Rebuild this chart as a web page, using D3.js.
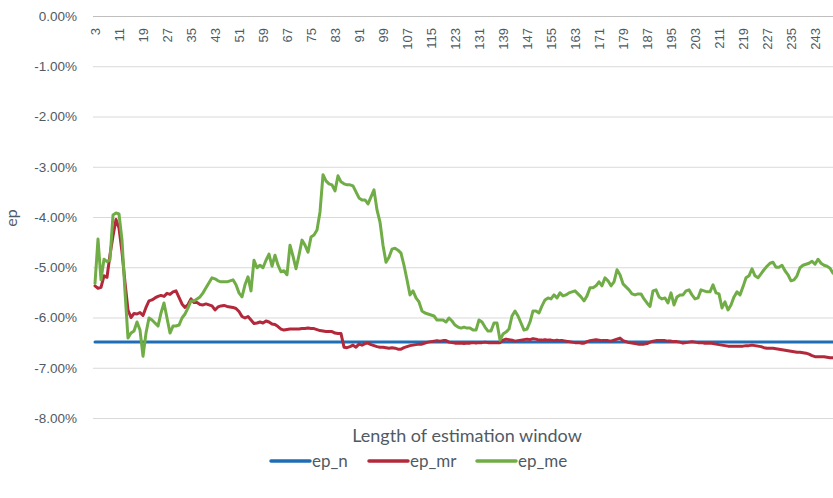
<!DOCTYPE html>
<html>
<head>
<meta charset="utf-8">
<script src="https://cdn.jsdelivr.net/npm/d3@7"></script>
<style>
    body { margin: 0; background: #fff; }
    svg { display: block; font-family: Lato, "Noto Sans", sans-serif; }
</style>
</head>
<body>
<div id="chart"></div>
<script>
// DATA
// window lengths 3..249
var categories = d3.range(3, 250);
// every 8th window length is labelled
var tickLabels = [3, 11, 19, 27, 35, 43, 51, 59, 67, 75, 83, 91, 99, 107, 115, 123,
    131, 139, 147, 155, 163, 171, 179, 187, 195, 203, 211, 219, 227, 235, 243];
var yTicks = [0, -1, -2, -3, -4, -5, -6, -7, -8];

// ep_n (%), flat
var epN = [
    -6.49, -6.49, -6.49, -6.49, -6.49, -6.49, -6.49, -6.49, -6.49, -6.49,
    -6.49, -6.49, -6.49, -6.49, -6.49, -6.49, -6.49, -6.49, -6.49, -6.49,
    -6.49, -6.49, -6.49, -6.49, -6.49, -6.49, -6.49, -6.49, -6.49, -6.49,
    -6.49, -6.49, -6.49, -6.49, -6.49, -6.49, -6.49, -6.49, -6.49, -6.49,
    -6.49, -6.49, -6.49, -6.49, -6.49, -6.49, -6.49, -6.49, -6.49, -6.49,
    -6.49, -6.49, -6.49, -6.49, -6.49, -6.49, -6.49, -6.49, -6.49, -6.49,
    -6.49, -6.49, -6.49, -6.49, -6.49, -6.49, -6.49, -6.49, -6.49, -6.49,
    -6.49, -6.49, -6.49, -6.49, -6.49, -6.49, -6.49, -6.49, -6.49, -6.49,
    -6.49, -6.49, -6.49, -6.49, -6.49, -6.49, -6.49, -6.49, -6.49, -6.49,
    -6.49, -6.49, -6.49, -6.49, -6.49, -6.49, -6.49, -6.49, -6.49, -6.49,
    -6.49, -6.49, -6.49, -6.49, -6.49, -6.49, -6.49, -6.49, -6.49, -6.49,
    -6.49, -6.49, -6.49, -6.49, -6.49, -6.49, -6.49, -6.49, -6.49, -6.49,
    -6.49, -6.49, -6.49, -6.49, -6.49, -6.49, -6.49, -6.49, -6.49, -6.49,
    -6.49, -6.49, -6.49, -6.49, -6.49, -6.49, -6.49, -6.49, -6.49, -6.49,
    -6.49, -6.49, -6.49, -6.49, -6.49, -6.49, -6.49, -6.49, -6.49, -6.49,
    -6.49, -6.49, -6.49, -6.49, -6.49, -6.49, -6.49, -6.49, -6.49, -6.49,
    -6.49, -6.49, -6.49, -6.49, -6.49, -6.49, -6.49, -6.49, -6.49, -6.49,
    -6.49, -6.49, -6.49, -6.49, -6.49, -6.49, -6.49, -6.49, -6.49, -6.49,
    -6.49, -6.49, -6.49, -6.49, -6.49, -6.49, -6.49, -6.49, -6.49, -6.49,
    -6.49, -6.49, -6.49, -6.49, -6.49, -6.49, -6.49, -6.49, -6.49, -6.49,
    -6.49, -6.49, -6.49, -6.49, -6.49, -6.49, -6.49, -6.49, -6.49, -6.49,
    -6.49, -6.49, -6.49, -6.49, -6.49, -6.49, -6.49, -6.49, -6.49, -6.49,
    -6.49, -6.49, -6.49, -6.49, -6.49, -6.49, -6.49, -6.49, -6.49, -6.49,
    -6.49, -6.49, -6.49, -6.49, -6.49, -6.49, -6.49, -6.49, -6.49, -6.49,
    -6.49, -6.49, -6.49, -6.49, -6.49, -6.49, -6.49
];

// ep_mr (%)
var epMr = [
    -5.37, -5.42, -5.40, -5.17, -5.20, -4.75, -4.38, -4.05, -4.22, -4.70,
    -5.30, -5.85, -6.00, -5.92, -5.93, -5.90, -5.96, -5.80, -5.67, -5.65,
    -5.61, -5.58, -5.56, -5.58, -5.52, -5.54, -5.49, -5.47, -5.60, -5.73,
    -5.80, -5.74, -5.63, -5.70, -5.70, -5.74, -5.75, -5.73, -5.75, -5.77,
    -5.85, -5.79, -5.77, -5.76, -5.78, -5.79, -5.80, -5.82, -5.88, -5.98,
    -6.01, -5.98, -6.05, -6.12, -6.11, -6.09, -6.11, -6.07, -6.09, -6.13,
    -6.14, -6.18, -6.23, -6.25, -6.24, -6.23, -6.23, -6.23, -6.23, -6.22,
    -6.22, -6.21, -6.22, -6.22, -6.24, -6.26, -6.27, -6.28, -6.28, -6.28,
    -6.31, -6.32, -6.32, -6.59, -6.60, -6.58, -6.55, -6.59, -6.53, -6.55,
    -6.52, -6.51, -6.54, -6.56, -6.58, -6.59, -6.59, -6.60, -6.61, -6.60,
    -6.61, -6.63, -6.63, -6.60, -6.58, -6.56, -6.55, -6.54, -6.53, -6.53,
    -6.51, -6.49, -6.48, -6.47, -6.46, -6.47, -6.46, -6.46, -6.49, -6.50,
    -6.51, -6.51, -6.51, -6.52, -6.51, -6.51, -6.50, -6.51, -6.50, -6.50,
    -6.49, -6.50, -6.50, -6.50, -6.50, -6.50, -6.45, -6.43, -6.44, -6.45,
    -6.47, -6.46, -6.45, -6.44, -6.43, -6.44, -6.42, -6.43, -6.45, -6.45,
    -6.44, -6.45, -6.45, -6.46, -6.45, -6.46, -6.46, -6.47, -6.48, -6.49,
    -6.50, -6.50, -6.51, -6.51, -6.48, -6.46, -6.45, -6.44, -6.45, -6.46,
    -6.46, -6.46, -6.47, -6.45, -6.43, -6.41, -6.46, -6.48, -6.50, -6.51,
    -6.52, -6.53, -6.53, -6.53, -6.52, -6.49, -6.47, -6.46, -6.46, -6.46,
    -6.46, -6.47, -6.47, -6.48, -6.48, -6.49, -6.51, -6.50, -6.49, -6.48,
    -6.49, -6.50, -6.50, -6.51, -6.51, -6.51, -6.52, -6.53, -6.54, -6.55,
    -6.56, -6.57, -6.57, -6.57, -6.57, -6.57, -6.57, -6.56, -6.56, -6.55,
    -6.56, -6.57, -6.58, -6.60, -6.61, -6.61, -6.61, -6.62, -6.63, -6.64,
    -6.65, -6.66, -6.67, -6.68, -6.69, -6.69, -6.70, -6.71, -6.73, -6.76,
    -6.78, -6.78, -6.78, -6.78, -6.79, -6.80, -6.80
];

// ep_me (%)
var epMe = [
    -5.32, -4.44, -5.25, -4.84, -4.89, -4.85, -3.96, -3.92, -3.94, -4.46,
    -5.49, -6.41, -6.31, -6.27, -6.09, -6.25, -6.77, -6.31, -6.01, -6.05,
    -6.11, -6.17, -5.91, -5.71, -6.01, -6.31, -6.17, -6.17, -6.15, -6.01,
    -5.93, -5.81, -5.67, -5.67, -5.63, -5.59, -5.51, -5.41, -5.31, -5.21,
    -5.23, -5.27, -5.29, -5.29, -5.29, -5.27, -5.25, -5.35, -5.51, -5.59,
    -5.35, -5.19, -5.47, -4.86, -5.01, -4.96, -5.01, -4.86, -4.74, -4.98,
    -4.76, -4.96, -5.09, -5.07, -5.15, -4.56, -4.78, -5.03, -4.76, -4.46,
    -4.56, -4.70, -4.40, -4.36, -4.26, -3.90, -3.16, -3.28, -3.34, -3.36,
    -3.48, -3.18, -3.30, -3.34, -3.36, -3.36, -3.38, -3.50, -3.62, -3.66,
    -3.66, -3.74, -3.60, -3.46, -3.86, -4.10, -4.56, -4.90, -4.80, -4.64,
    -4.62, -4.66, -4.72, -4.96, -5.25, -5.55, -5.47, -5.61, -5.69, -5.87,
    -5.91, -5.93, -5.95, -5.97, -6.05, -6.05, -6.05, -6.09, -6.01, -6.07,
    -6.15, -6.19, -6.21, -6.19, -6.21, -6.21, -6.25, -6.25, -6.05, -6.09,
    -6.19, -6.27, -6.27, -6.11, -6.11, -6.45, -6.33, -6.29, -6.23, -5.97,
    -5.87, -5.97, -6.11, -6.25, -6.23, -6.09, -5.87, -5.87, -5.91, -5.77,
    -5.65, -5.61, -5.63, -5.55, -5.61, -5.51, -5.57, -5.55, -5.51, -5.49,
    -5.47, -5.53, -5.59, -5.67, -5.57, -5.41, -5.41, -5.37, -5.29, -5.37,
    -5.21, -5.27, -5.37, -5.29, -5.05, -5.15, -5.33, -5.39, -5.45, -5.53,
    -5.55, -5.53, -5.53, -5.63, -5.71, -5.78, -5.47, -5.45, -5.59, -5.63,
    -5.61, -5.71, -5.51, -5.75, -5.59, -5.55, -5.55, -5.47, -5.45, -5.55,
    -5.63, -5.61, -5.45, -5.47, -5.49, -5.49, -5.35, -5.51, -5.53, -5.81,
    -5.69, -5.85, -5.75, -5.59, -5.49, -5.55, -5.39, -5.21, -5.17, -5.03,
    -5.17, -5.21, -5.13, -5.05, -4.98, -4.92, -4.90, -5.00, -5.00, -4.96,
    -5.07, -5.15, -5.27, -5.25, -5.17, -5.01, -4.96, -4.94, -4.92, -4.88,
    -4.94, -4.84, -4.92, -4.96, -4.98, -5.02, -5.12
];

var seriesNames = ["ep_n", "ep_mr", "ep_me"];
var seriesColors = ["#1f6db5", "#b3283a", "#70ad47"];
var seriesValues = [epN, epMr, epMe];

// SIZES
var svgWidth = 833;
var svgHeight = 498;
var plotLeft = 93;
var plotRight = 833;
var plotTop = 16;
var plotBottom = 418;
var textColor = "#505a64";

var svg = d3.select("#chart")
    .append("svg")
    .attr("width", svgWidth)
    .attr("height", svgHeight);

// scales
var x = d3.scaleBand()
    .domain(categories)
    .range([plotLeft + 0.5, plotLeft + 0.5 + categories.length * 3]);

var y = d3.scaleLinear()
    .domain([-8, 0])
    .range([plotBottom, plotTop]);

// y axis with gridlines
var yAxis = svg.append("g")
    .attr("transform", `translate(${plotLeft}, 0)`)
    .call(d3.axisLeft(y)
        .tickValues(yTicks)
        .tickSize(-(plotRight - plotLeft))
        .tickPadding(16)
        .tickFormat(d => d.toFixed(2) + "%"));
yAxis.select(".domain").remove();
yAxis.selectAll("line")
    .attr("stroke", d => d === 0 ? "#bfbfbf" : "#d9d9d9");
yAxis.selectAll("text")
    .attr("fill", textColor)
    .attr("font-size", 13.5);

// y title
svg.append("text")
    .attr("transform", "translate(17, 218) rotate(-90)")
    .attr("text-anchor", "middle")
    .attr("fill", textColor)
    .attr("font-size", 16)
    .text("ep");

// category axis sits at 0, labels hang below it
var xAxis = svg.append("g")
    .attr("transform", `translate(0, ${plotTop})`)
    .call(d3.axisBottom(x)
        .tickValues(tickLabels)
        .tickSize(0));
xAxis.select(".domain").remove();
xAxis.selectAll("text")
    .attr("transform", "rotate(-90)")
    .attr("x", -12)
    .attr("y", 0)
    .attr("dy", "0.35em")
    .attr("text-anchor", "end")
    .attr("fill", textColor)
    .attr("font-size", 13);

// x title
svg.append("text")
    .attr("x", 467)
    .attr("y", 442)
    .attr("text-anchor", "middle")
    .attr("fill", textColor)
    .attr("font-size", 18)
    .text("Length of estimation window");

// lines
var line = d3.line()
    .x((d, i) => x(categories[i]) + x.bandwidth() / 2)
    .y(d => y(d));

svg.append("g")
    .selectAll("path")
    .data(seriesValues)
    .enter()
    .append("path")
    .attr("d", line)
    .attr("fill", "none")
    .attr("stroke", (d, i) => seriesColors[i])
    .attr("stroke-width", 3)
    .attr("stroke-linejoin", "round")
    .attr("stroke-linecap", "round");

// legend
var legendX = [271, 369, 477];
var legend = svg.append("g")
    .selectAll("g")
    .data(seriesNames)
    .enter()
    .append("g")
    .attr("transform", (d, i) => `translate(${legendX[i]}, 461)`);

legend.append("line")
    .attr("x1", 0)
    .attr("x2", 39)
    .attr("stroke", (d, i) => seriesColors[i])
    .attr("stroke-width", 3.5)
    .attr("stroke-linecap", "round");

legend.append("text")
    .attr("x", 41)
    .attr("dy", "0.35em")
    .attr("fill", textColor)
    .attr("font-size", 17)
    .text(d => d);
</script>
</body>
</html>
